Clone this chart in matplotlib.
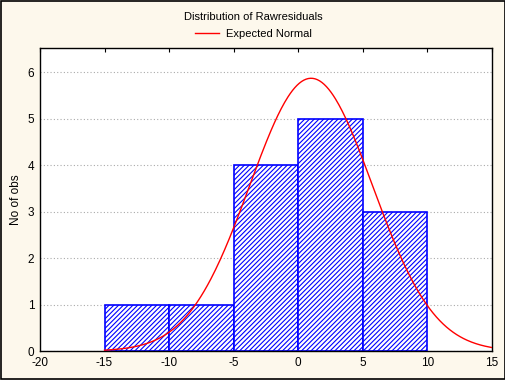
import numpy as np
import matplotlib
matplotlib.use("Agg")
import matplotlib.pyplot as plt

# histogram of raw residuals
bin_edges = [-15, -10, -5, 0, 5, 10]
counts = [1, 1, 4, 5, 3]

# expected normal parameters
mu = 1.0
sigma = 4.76
n_obs = sum(counts)
bin_width = 5

plt.rcParams['font.family'] = ['Liberation Sans', 'DejaVu Sans']
plt.rcParams['axes.unicode_minus'] = False
plt.rcParams['hatch.color'] = '#0000ff'
plt.rcParams['hatch.linewidth'] = 0.8

fig = plt.figure(figsize=(5.06, 3.80), dpi=100, facecolor='#fdf8ec')
ax = fig.add_axes([0.079, 0.076, 0.893, 0.798])
ax.set_facecolor('white')

lefts = bin_edges[:-1]
ax.bar(lefts, counts, width=bin_width, align='edge', color='white',
       edgecolor='#0000ff', linewidth=1.2, hatch='///////', zorder=2)

xs = np.linspace(-20, 15, 400)
ys = n_obs * bin_width / (sigma * np.sqrt(2 * np.pi)) * np.exp(-0.5 * ((xs - mu) / sigma) ** 2)
xs_c = xs[xs >= -15]
ys_c = ys[xs >= -15]
ax.plot(xs_c, ys_c, color='red', linewidth=1.0, zorder=3, label='Expected Normal')

ax.set_xlim(-20, 15)
ax.set_ylim(0, 6.52)
ax.set_xticks(range(-20, 16, 5))
ax.set_yticks(range(0, 7))
ax.yaxis.grid(True, linestyle=(0, (1, 2)), color='#aaaaaa', linewidth=0.8, zorder=0)
ax.set_axisbelow(True)
ax.tick_params(direction='in', top=True, bottom=False, right=False, left=False, length=3,
               labelsize=8.5, width=0.8, pad=4)
for s in ax.spines.values():
    s.set_linewidth(1.0)

ax.set_ylabel('No of obs', fontsize=8.5)
fig.text(0.5, 0.955, 'Distribution of Rawresiduals', ha='center', va='center', fontsize=8)
fig.legend(loc='center', bbox_to_anchor=(0.5, 0.91), frameon=False, fontsize=8,
           handlelength=2.2, handletextpad=0.6)

# outer border
fig.patches.append(plt.Rectangle((0.002, 0.002), 0.996, 0.996, transform=fig.transFigure,
                                 fill=False, edgecolor='black', linewidth=1.2))

plt.savefig('out.png', dpi=100, facecolor=fig.get_facecolor())
